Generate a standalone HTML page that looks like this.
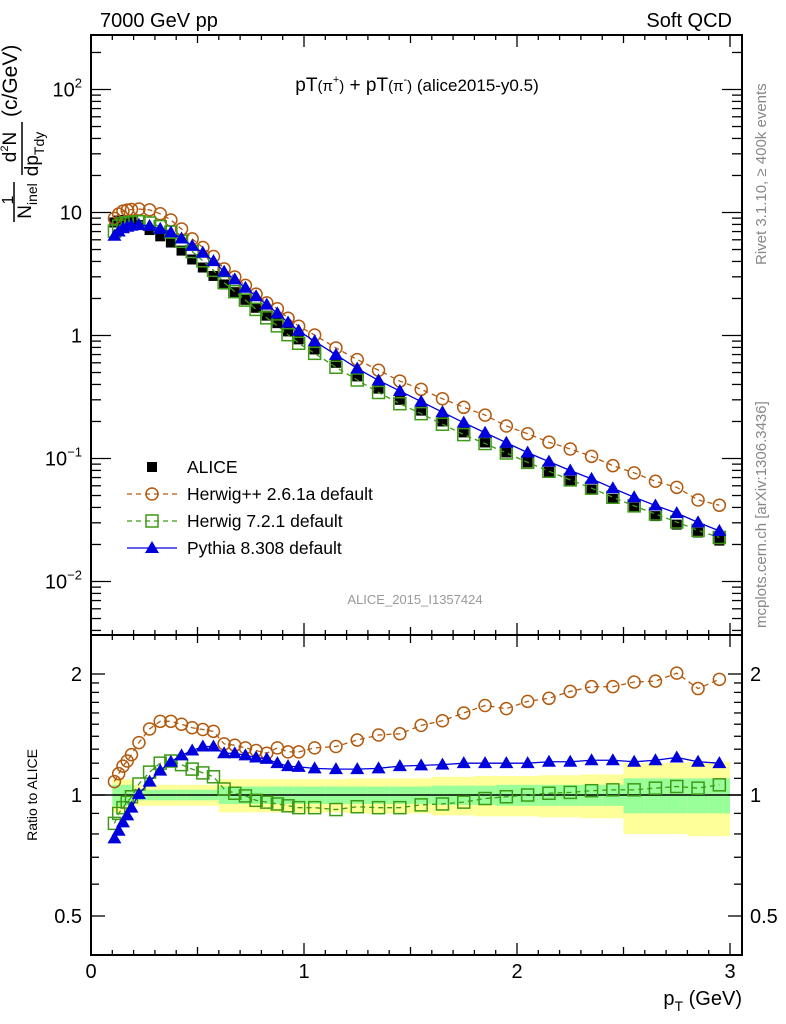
<!DOCTYPE html>
<html><head><meta charset="utf-8"><style>
body{margin:0;background:#fff;}
svg{display:block;font-family:"Liberation Sans",sans-serif;}
</style></head><body>
<svg id="chart" width="786" height="1024" viewBox="0 0 786 1024" xmlns="http://www.w3.org/2000/svg">
<g id="bands"></g>
<g id="marks"></g>
<g id="axes"></g>
<text x="100" y="27" font-size="20">7000 GeV pp</text>
<text x="732" y="27" font-size="20" text-anchor="end">Soft QCD</text>
<text x="417" y="91" font-size="19" text-anchor="middle">pT<tspan font-size="15">(π</tspan><tspan font-size="11" dy="-8">+</tspan><tspan font-size="15" dy="8">)</tspan> + pT<tspan font-size="15">(π</tspan><tspan font-size="11" dy="-8">-</tspan><tspan font-size="15" dy="8">)</tspan><tspan font-size="17"> (alice2015-y0.5)</tspan></text>
<text x="415" y="604" font-size="13" fill="#999" text-anchor="middle">ALICE_2015_I1357424</text>
<text transform="translate(766,265) rotate(-90)" font-size="15" fill="#888">Rivet 3.1.10, ≥ 400k events</text>
<text transform="translate(766,628) rotate(-90)" font-size="15" fill="#888">mcplots.cern.ch [arXiv:1306.3436]</text>
<g font-size="19">
<text transform="translate(13,200) rotate(-90)" text-anchor="middle" font-size="16">1</text>
<line x1="14" y1="222" x2="14" y2="182" stroke="#000" stroke-width="1.5"/>
<text transform="translate(31,201) rotate(-90)" text-anchor="middle">N<tspan font-size="14" dy="6">inel</tspan></text>
<text transform="translate(16,147) rotate(-90)" text-anchor="middle">d<tspan font-size="11" dy="-8">2</tspan><tspan dy="8">N</tspan></text>
<line x1="22" y1="175" x2="22" y2="122" stroke="#000" stroke-width="1.5"/>
<text transform="translate(38,154) rotate(-90)" text-anchor="middle">dp<tspan font-size="14" dy="6">Tdy</tspan></text>
<text transform="translate(17,117) rotate(-90)" text-anchor="start" font-size="21">(c/GeV)</text>
</g>
<text transform="translate(37,795) rotate(-90)" font-size="14" text-anchor="middle">Ratio to ALICE</text>
<text x="742" y="1005" font-size="20" text-anchor="end">p<tspan font-size="14" dy="6">T</tspan><tspan dy="-6"> (GeV)</tspan></text>
<g id="legend"></g>
</svg>
<script>
const NS="http://www.w3.org/2000/svg";
const binLo=[0.10,0.12,0.14,0.16,0.18,0.20,0.25,0.30,0.35,0.40,0.45,0.50,0.55,0.60,0.65,0.70,0.75,0.80,0.85,0.90,0.95,1.0,1.1,1.2,1.3,1.4,1.5,1.6,1.7,1.8,1.9,2.0,2.1,2.2,2.3,2.4,2.5,2.6,2.7,2.8,2.9];
const binHi=[0.12,0.14,0.16,0.18,0.20,0.25,0.30,0.35,0.40,0.45,0.50,0.55,0.60,0.65,0.70,0.75,0.80,0.85,0.90,0.95,1.0,1.1,1.2,1.3,1.4,1.5,1.6,1.7,1.8,1.9,2.0,2.1,2.2,2.3,2.4,2.5,2.6,2.7,2.8,2.9,3.0];
const aliceVals=[8.3,8.6,8.7,8.6,8.4,7.9,7.2,6.4,5.7,4.9,4.15,3.57,3.05,2.6,2.25,1.95,1.68,1.45,1.26,1.08,0.93,0.77,0.60,0.465,0.37,0.30,0.245,0.20,0.163,0.135,0.112,0.093,0.078,0.066,0.056,0.047,0.040,0.034,0.029,0.025,0.0215];
const herwigPPRatio=[1.08,1.13,1.18,1.215,1.26,1.35,1.46,1.525,1.525,1.50,1.47,1.455,1.44,1.34,1.33,1.31,1.29,1.27,1.31,1.28,1.28,1.31,1.32,1.37,1.41,1.42,1.49,1.53,1.60,1.67,1.64,1.71,1.74,1.81,1.86,1.86,1.91,1.92,2.01,1.84,1.94];
const herwig7Ratio=[0.85,0.90,0.93,0.96,0.99,1.065,1.14,1.20,1.215,1.19,1.16,1.135,1.11,1.035,1.01,0.995,0.97,0.96,0.95,0.94,0.93,0.93,0.92,0.935,0.93,0.93,0.945,0.95,0.96,0.98,0.99,1.0,1.01,1.015,1.025,1.03,1.03,1.04,1.05,1.04,1.06];
const pythiaRatio=[0.78,0.815,0.855,0.89,0.93,1.005,1.08,1.15,1.21,1.255,1.29,1.32,1.32,1.27,1.27,1.255,1.24,1.23,1.20,1.18,1.175,1.165,1.16,1.16,1.165,1.18,1.185,1.19,1.2,1.2,1.2,1.2,1.21,1.21,1.22,1.22,1.21,1.22,1.24,1.21,1.2];
const errInner=[0.06,0.06,0.06,0.06,0.06,0.03,0.03,0.03,0.03,0.03,0.03,0.03,0.03,0.05,0.05,0.05,0.05,0.05,0.05,0.05,0.05,0.05,0.05,0.05,0.05,0.05,0.05,0.055,0.055,0.055,0.06,0.06,0.06,0.06,0.06,0.06,0.10,0.10,0.10,0.10,0.10];
const errOuter=[0.095,0.095,0.095,0.095,0.095,0.06,0.06,0.06,0.06,0.06,0.06,0.06,0.06,0.095,0.095,0.095,0.095,0.095,0.095,0.095,0.095,0.095,0.095,0.10,0.10,0.10,0.10,0.11,0.11,0.115,0.115,0.115,0.12,0.12,0.125,0.125,0.20,0.20,0.20,0.21,0.21];
const xTickLabels=["0","1","2","3"];
const yMainLabels=["10^-2","10^-1","1","10","10^2"];
const yRatioLabels=["0.5","1","2"];

const L=91,R=742,T=35,MID=635,B=955;
const X=v=>L+(v-0)*213;
const Ymain=v=>89.5-(Math.log10(v)-2)*123;
const Yr=v=>795-Math.log2(v)*121;
function el(tag,attrs,parent){const e=document.createElementNS(NS,tag);for(const k in attrs)e.setAttribute(k,attrs[k]);parent.appendChild(e);return e;}
const bands=document.getElementById('bands'),marks=document.getElementById('marks'),axes=document.getElementById('axes'),legend=document.getElementById('legend');

for(let i=0;i<binLo.length;i++){
  const y1=el('rect',{x:X(binLo[i]),width:X(binHi[i])-X(binLo[i]),y:Yr(1+errOuter[i]),height:Yr(1-errOuter[i])-Yr(1+errOuter[i]),fill:'#ffff99'},bands);
  
  
  const g1=el('rect',{x:X(binLo[i]),width:X(binHi[i])-X(binLo[i]),y:Yr(1+errInner[i]),height:Yr(1-errInner[i])-Yr(1+errInner[i]),fill:'#99ff99'},bands);
  
  
}
el('line',{x1:L,x2:R,y1:Yr(1),y2:Yr(1),stroke:'#000','stroke-width':1.5},bands);

const centers=binLo.map((lo,i)=>(lo+binHi[i])/2);
function marker(type,cx,cy,col,parent){
  let m;
  if(type==='circle')m=el('circle',{cx:cx,cy:cy,r:6,fill:'none',stroke:col,'stroke-width':1.5},parent);
  else if(type==='osq')m=el('rect',{x:cx-6,y:cy-6,width:12,height:12,fill:'none',stroke:col,'stroke-width':1.5},parent);
  else if(type==='tri')m=el('polygon',{points:`${cx},${cy-7} ${cx-7},${cy+5} ${cx+7},${cy+5}`,fill:col},parent);
  else m=el('rect',{x:cx-5,y:cy-5,width:10,height:10,fill:col},parent);
  return m;
}
function series(name,vals,yfn,col,type,dash){
  const g=el('g',{},marks);
  
  
  if(dash!==null){
    const pts=vals.map((v,i)=>X(centers[i])+','+yfn(v)).join(' ');
    const pl=el('polyline',{points:pts,fill:'none',stroke:col,'stroke-width':1.3},g);
    if(dash)pl.setAttribute('stroke-dasharray',dash);
    
    
  }
  vals.forEach((v,i)=>{
    const m=marker(type,X(centers[i]),yfn(v),col,g);
    
    
  });
}
const cOr='#b35a0f',cGr='#3c9a14',cBl='#0000dd';
series('alice-data',aliceVals,Ymain,'#000','sq',null);
series('herwigpp-main',aliceVals.map((a,i)=>a*herwigPPRatio[i]),Ymain,cOr,'circle','5,4');
series('herwig7-main',aliceVals.map((a,i)=>a*herwig7Ratio[i]),Ymain,cGr,'osq','5,4');
series('pythia-main',aliceVals.map((a,i)=>a*pythiaRatio[i]),Ymain,cBl,'tri','');
series('herwigpp-ratio',herwigPPRatio,Yr,cOr,'circle','5,4');
series('herwig7-ratio',herwig7Ratio,Yr,cGr,'osq','5,4');
series('pythia-ratio',pythiaRatio,Yr,cBl,'tri','');

el('rect',{x:L,y:T,width:R-L,height:B-T,fill:'none',stroke:'#000','stroke-width':2},axes);
el('line',{x1:L,x2:R,y1:MID,y2:MID,stroke:'#000','stroke-width':2},axes);
for(let k=0;k<=30;k++){
  const v=k/10,x=X(v);
  const len=(k%10===0)?12:(k%5===0?8:5);
  [T,MID,B].forEach(y0=>{
    if(y0!==T)el('line',{x1:x,x2:x,y1:y0,y2:y0-len,stroke:'#000','stroke-width':1.3},axes);
    if(y0!==B)el('line',{x1:x,x2:x,y1:y0,y2:y0+len,stroke:'#000','stroke-width':1.3},axes);
  });
}
xTickLabels.forEach((s,i)=>{const t=el('text',{x:X(i),y:978,'font-size':20,'text-anchor':'middle'},axes);t.textContent=s;

});
for(let d=-3;d<=2;d++)for(let m=1;m<=9;m++){
  const v=m*Math.pow(10,d),y=Ymain(v);
  if(y<T||y>MID)continue;
  const len=m===1?20:10;
  el('line',{x1:L,x2:L+len,y1:y,y2:y,stroke:'#000','stroke-width':1.3},axes);
  el('line',{x1:R,x2:R-len,y1:y,y2:y,stroke:'#000','stroke-width':1.3},axes);
}
yMainLabels.forEach((s,i)=>{
  const d=i-2,y=Ymain(Math.pow(10,d));
  const t=el('text',{x:82,y:y+7,'font-size':20,'text-anchor':'end'},axes);
  
  
  if(s.indexOf('^')>=0){const p=s.split('^');t.innerHTML='<tspan>'+p[0]+'</tspan><tspan font-size="13" dy="-9">'+p[1].replace('-','\u2212')+'</tspan>';}
  else t.textContent=s;
});
const rt=[0.4,0.5,0.6,0.7,0.8,0.9,1,1.1,1.2,1.3,1.4,1.5,1.6,1.7,1.8,1.9,2,2.5];
rt.forEach(v=>{const y=Yr(v);if(y<MID||y>B)return;const len=(v===0.5||v===1||v===2)?14:8;
  el('line',{x1:L,x2:L+len,y1:y,y2:y,stroke:'#000','stroke-width':1.3},axes);
  el('line',{x1:R,x2:R-len,y1:y,y2:y,stroke:'#000','stroke-width':1.3},axes);});
yRatioLabels.forEach(s=>{const y=Yr(parseFloat(s));
  const t=el('text',{x:82,y:y+7,'font-size':20,'text-anchor':'end'},axes);t.textContent=s;
  
  
  const t2=el('text',{x:750,y:y+7,'font-size':20},axes);t2.textContent=s;
  
  });
const legNames=["ALICE","Herwig++ 2.6.1a default","Herwig 7.2.1 default","Pythia 8.308 default"];
const legTypes=['sq','circle','osq','tri'],legCols=['#000',cOr,cGr,cBl],legDash=[null,'5,4','5,4',''];
legNames.forEach((n,i)=>{
  const y=467+i*27,g=el('g',{},legend);
  
  
  if(legDash[i]!==null){const l=el('line',{x1:127,x2:177,y1:y,y2:y,stroke:legCols[i],'stroke-width':1.3},g);if(legDash[i])l.setAttribute('stroke-dasharray',legDash[i]);}
  marker(legTypes[i],152,y,legCols[i],g);
  const t=el('text',{x:187,y:y+6,'font-size':17.5},g);t.textContent=n;
});
</script>
</body></html>
